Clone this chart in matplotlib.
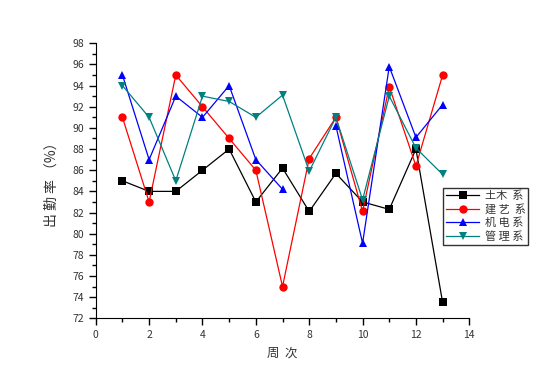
import numpy as np
import matplotlib
matplotlib.use("Agg")
import matplotlib.pyplot as plt
from matplotlib.ticker import MultipleLocator

plt.rcParams['font.family'] = ['Noto Sans CJK SC', 'DejaVu Sans']

weeks = [1, 2, 3, 4, 5, 6, 7, 8, 9, 10, 11, 12, 13]
tumu = [85, 84, 84, 86, 88, 83, 86.2, 82.1, 85.7, 83, 82.3, 88, 73.5]
jianyi = [91, 83, 95, 92, 89, 86, 75, 87.1, 91, 82.1, 93.9, 86.4, 95]
jidian = [95, 87, 93, 91, 94, 87, 84.2, np.nan, 90.2, 79.1, 95.8, 89.1, 92.2]
guanli = [94, 91, 85, 93, 92.5, 91, 93.1, 85.9, 91, 83.2, 93, 88.1, 85.6]

labels = ["土木  系", "建 艺  系", "机 电 系", "管 理 系"]
colors = ["#000000", "#ff0000", "#0000ff", "#008080"]
markers = ["s", "o", "^", "v"]

fig = plt.figure(figsize=(5.44, 3.82), dpi=100)
ax = fig.add_axes([0.176, 0.1667, 0.6867, 0.72])

for ys, lab, c, m in zip([tumu, jianyi, jidian, guanli], labels, colors, markers):
    ax.plot(weeks, ys, color=c, marker=m, markersize=6, linewidth=0.9,
            markeredgewidth=0, label=lab)

ax.set_xlim(0, 14)
ax.set_ylim(72, 98)
ax.xaxis.set_major_locator(MultipleLocator(2))
ax.xaxis.set_minor_locator(MultipleLocator(1))
ax.yaxis.set_major_locator(MultipleLocator(2))
ax.yaxis.set_minor_locator(MultipleLocator(1))
ax.spines['top'].set_visible(False)
ax.spines['right'].set_visible(False)
ax.tick_params(which='major', length=5, width=1, labelsize=7.5, labelcolor='#333333')
ax.tick_params(which='minor', length=3, width=1)

ax.set_xlabel("周  次", fontsize=9, color='#333333', labelpad=5)
ax.set_ylabel("出 勤 率 （%）", fontsize=10, color='#333333', labelpad=10)

leg = ax.legend(loc='upper left', bbox_to_anchor=(0.93, 0.474), fontsize=8,
                frameon=True, fancybox=False, edgecolor='black', handlelength=3,
                borderpad=0.25, labelspacing=0.25, handletextpad=0.5, borderaxespad=0)
leg.get_frame().set_linewidth(1)
for t in leg.get_texts():
    t.set_color('#333333')

fig.savefig("out.png", dpi=100)
